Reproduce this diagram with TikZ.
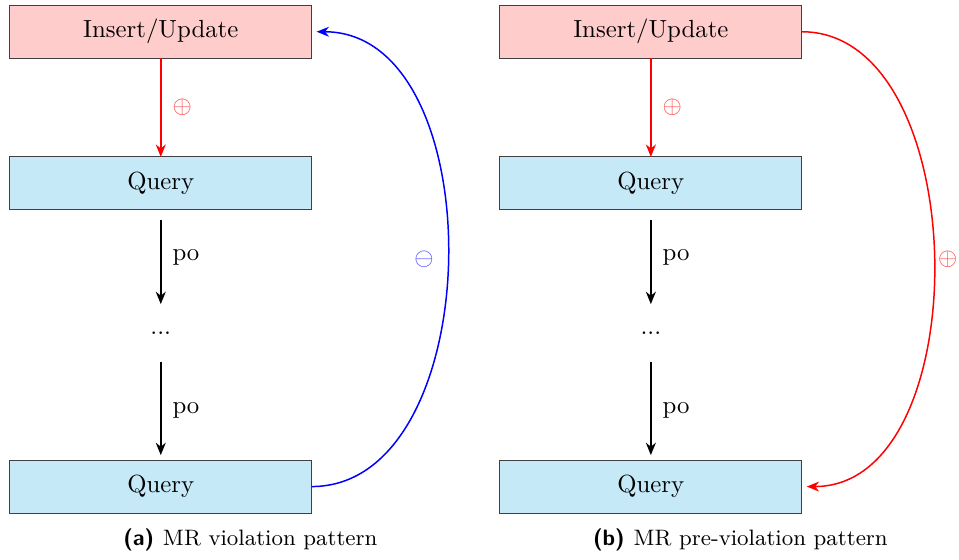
\documentclass[tikz,border=0pt]{standalone}
\usepackage{amsmath,amssymb}
\usepackage{tikz}
\usepackage{xcolor}
\usetikzlibrary{arrows.meta,positioning,calc}

\definecolor{updpink}{RGB}{255,204,204}
\definecolor{qryblue}{RGB}{198,233,248}

\begin{document}
\begin{tikzpicture}[
    opbox/.style={draw=black!75, minimum width=4.28cm, minimum height=0.75cm, inner sep=0pt, outer sep=0pt},
    updbox/.style={opbox, fill=updpink},
    qrybox/.style={opbox, fill=qryblue},
    gapnode/.style={minimum height=0.8cm, inner sep=0pt},
    poarrow/.style={-{Stealth[length=5pt,width=4pt,inset=1.6pt]}, thick},
    rel/.style={-{Stealth[length=5pt,width=4pt,inset=1.6pt]}, semithick},
    caplabel/.style={font=\small}
]
\useasboundingbox (0,0) rectangle (13.60,-7.93);

% (a) violation
\node[updbox] (ins-a) at (2.28,-0.45) {Insert/Update};
\node[qrybox] (qa-first) at (2.28,-2.60) {Query};
\node[gapnode] (dots-a) at (2.28,-4.72) {...};
\node[qrybox] (qa-last) at (2.28,-6.90) {Query};
\draw[rel, red, thick] (ins-a) -- node[right=1pt, red!70] {$\oplus$} (qa-first);
\draw[poarrow, shorten <=4pt] (qa-first) -- node[right=1pt] {po} (dots-a);
\draw[poarrow, shorten >=2pt] (dots-a) -- node[right=1pt] {po} (qa-last);
\draw[rel, blue] (qa-last.east) to[out=0, in=0, looseness=1]
    node[left=2pt, blue!70] {$\ominus$} ($(ins-a.east)+(2pt,0)$);
\node[caplabel] (cap-a) at (3.55,-7.66) {\textsf{\bfseries (a)}\hspace{0.4em}MR violation pattern};

% (b) pre-violation
\node[updbox] (ins-b) at (9.23,-0.45) {Insert/Update};
\node[qrybox] (qb-first) at (9.23,-2.60) {Query};
\node[gapnode] (dots-b) at (9.23,-4.72) {...};
\node[qrybox] (qb-last) at (9.23,-6.90) {Query};
\draw[rel, red, thick] (ins-b) -- node[right=1pt, red!70] {$\oplus$} (qb-first);
\draw[poarrow, shorten <=4pt] (qb-first) -- node[right=1pt] {po} (dots-b);
\draw[poarrow, shorten >=2pt] (dots-b) -- node[right=1pt] {po} (qb-last);
\draw[rel, red] (ins-b.east) to[out=0, in=0, looseness=0.97]
    node[right=1.5pt, inner sep=0pt, red!70] {$\oplus$} ($(qb-last.east)+(2pt,0)$);
\node[caplabel] (cap-b) at (10.50,-7.66) {\textsf{\bfseries (b)}\hspace{0.4em}MR pre-violation pattern};
\end{tikzpicture}
\end{document}
